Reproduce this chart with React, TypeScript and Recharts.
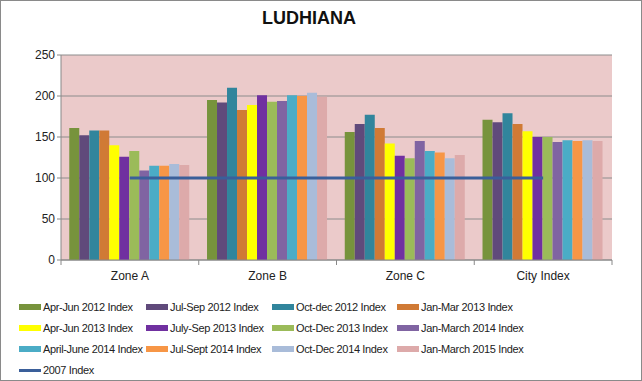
import React from "react";
import {
  ComposedChart,
  Bar,
  Line,
  XAxis,
  YAxis,
  CartesianGrid,
} from "recharts";

const categories = ["Zone A", "Zone B", "Zone C", "City Index"];

const seriesNames = [
  "Apr-Jun 2012 Index",
  "Jul-Sep 2012 Index",
  "Oct-dec 2012 Index",
  "Jan-Mar 2013 Index",
  "Apr-Jun 2013 Index",
  "July-Sep 2013 Index",
  "Oct-Dec 2013 Index",
  "Jan-March 2014 Index",
  "April-June 2014 Index",
  "Jul-Sept 2014 Index",
  "Oct-Dec 2014 Index",
  "Jan-March 2015 Index",
];

const aprJun2012 = [161, 195, 156, 171];
const julSep2012 = [152, 192, 166, 168];
const octDec2012 = [158, 210, 177, 179];
const janMar2013 = [158, 183, 161, 166];
const aprJun2013 = [140, 189, 142, 157];
const julSep2013 = [126, 201, 127, 150];
const octDec2013 = [133, 193, 124, 150];
const janMar2014 = [109, 194, 145, 144];
const aprJun2014 = [115, 201, 133, 146];
const julSep2014 = [115, 200, 131, 145];
const octDec2014 = [117, 204, 124, 146];
const janMar2015 = [116, 199, 128, 145];
const index2007 = [100, 100, 100, 100];

const seriesValues = [
  aprJun2012,
  julSep2012,
  octDec2012,
  janMar2013,
  aprJun2013,
  julSep2013,
  octDec2013,
  janMar2014,
  aprJun2014,
  julSep2014,
  octDec2014,
  janMar2015,
];

const yTicks = [0, 50, 100, 150, 200, 250];

const colors = [
  "#77933C",
  "#604A7B",
  "#31859C",
  "#D07A35",
  "#FFFF00",
  "#7030A0",
  "#9BBB59",
  "#8064A2",
  "#4BACC6",
  "#F79646",
  "#A9BCD9",
  "#DDAAAA",
];
const lineColor = "#3A5F9A";

const data = categories.map((name, i) => {
  const row: Record<string, string | number> = { name, line: index2007[i] };
  seriesValues.forEach((vals, s) => {
    row["s" + s] = vals[i];
  });
  return row;
});

const font = "'Liberation Sans', Arial, sans-serif";

function CategoryTick(props: any) {
  const { x, y, payload, index } = props;
  const band = 551 / categories.length;
  const left = x - band / 2;
  return (
    <g>
      <line x1={left} y1={y - 8} x2={left} y2={y - 3} stroke="#888" />
      {index === categories.length - 1 && (
        <line x1={left + band} y1={y - 8} x2={left + band} y2={y - 3} stroke="#888" />
      )}
      <text x={x} y={y + 12} textAnchor="middle" fill="#222" fontSize={12} fontFamily={font}>
        {payload.value}
      </text>
    </g>
  );
}

function LegendBox() {
  const items = seriesNames.map((n, i) => ({ name: n, color: colors[i], line: false }));
  items.push({ name: "2007 Index", color: lineColor, line: true });
  return (
    <div
      style={{
        position: "absolute",
        left: 18,
        top: 299,
        display: "grid",
        gridTemplateColumns: "127px 126px 125px 140px",
        rowGap: 7,
        fontFamily: font,
        fontSize: 11,
        letterSpacing: -0.35,
        color: "#222",
      }}
    >
      {items.map((it) => (
        <div key={it.name} style={{ display: "flex", alignItems: "center", height: 14 }}>
          <span
            style={{
              display: "inline-block",
              flexShrink: 0,
              width: 22,
              height: it.line ? 3 : 6,
              background: it.color,
              marginRight: 2,
            }}
          />
          <span style={{ whiteSpace: "nowrap" }}>{it.name}</span>
        </div>
      ))}
    </div>
  );
}

export default function App() {
  return (
    <div
      style={{
        position: "absolute",
        left: 0,
        top: 0,
        width: 642,
        height: 381,
        boxSizing: "border-box",
        border: "1px solid #8a8a8a",
        background: "#fff",
      }}
    >
      <div
        style={{
          position: "absolute",
          left: 208,
          width: 200,
          top: 7,
          textAlign: "center",
          fontFamily: font,
          fontWeight: "bold",
          fontSize: 18,
          color: "#111",
        }}
      >
        LUDHIANA
      </div>
      <ComposedChart
        width={640}
        height={379}
        data={data}
        margin={{ top: 54, right: 29, bottom: 97, left: 0 }}
        barCategoryGap="6%"
        barGap={0}
        style={{ position: "absolute", left: 0, top: 0 }}
      >
        <CartesianGrid
          vertical={false}
          stroke="#8c8c8c"
          fill="#ebcaca"
          fillOpacity={1}
        />
        <XAxis
          dataKey="name"
          tickLine={false}
          stroke="#888"
          tick={<CategoryTick />}
          interval={0}
          height={23}
        />
        <YAxis
          width={60}
          domain={[0, 250]}
          ticks={yTicks}
          stroke="#888"
          tickSize={4}
          tick={{ fill: "#222", fontSize: 12, fontFamily: font }}
        />
        {seriesNames.map((n, i) => (
          <Bar
            key={n}
            dataKey={"s" + i}
            name={n}
            fill={colors[i]}
            isAnimationActive={false}
          />
        ))}
        <Line
          dataKey="line"
          name="2007 Index"
          stroke={lineColor}
          strokeWidth={3}
          dot={false}
          type="linear"
          isAnimationActive={false}
        />
      </ComposedChart>
      <LegendBox />
    </div>
  );
}
